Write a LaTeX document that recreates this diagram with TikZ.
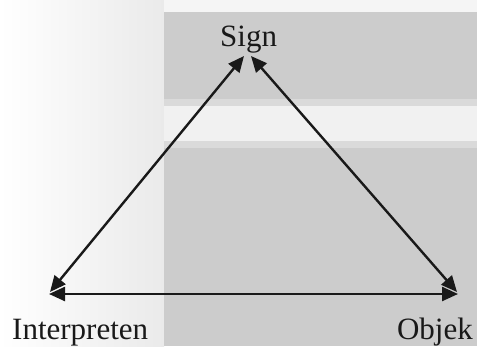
\documentclass[tikz,border=0pt]{standalone}
\usepackage{fontspec}
\setmainfont{Liberation Serif}
\usetikzlibrary{arrows.meta}
\definecolor{panel}{HTML}{CCCCCC}
\definecolor{leftbg}{HTML}{EAEAEA}
\definecolor{strip}{HTML}{F1F1F1}
\definecolor{edge}{HTML}{DADADA}
\tikzset{
  lbl/.style={inner sep=0pt, font=\fontsize{31}{36}\selectfont, text=black!90},
  link/.style={line width=2.4pt, draw=black!90, {Triangle[length=16pt,width=14pt]}-{Triangle[length=16pt,width=14pt]}}
}
\begin{document}
\begin{tikzpicture}[x=1pt,y=-1pt]
\useasboundingbox (0,0) rectangle (477,346);
% background
\shade[left color=white, right color=leftbg] (0,0) rectangle (164,346);
\fill[white!96!black] (164,0) rectangle (477,12);
\fill[edge] (164,99) rectangle (477,106);
\fill[strip] (164,106) rectangle (477,141);
\fill[edge] (164,141) rectangle (477,148);
\fill[panel] (164,12) rectangle (477,99);
\fill[panel] (164,148) rectangle (477,346);
% labels
\node[lbl, anchor=base west] (sign) at (220,46) {Sign};
\node[lbl, anchor=base west] (interp) at (12,339) {Interpreten};
\node[lbl, anchor=base east] (objek) at (473,339) {Objek};
% corners
\coordinate (sl) at (244,56);
\coordinate (sr) at (251,56);
\coordinate (il) at (50,292);
\coordinate (ib) at (49,294);
\coordinate (or) at (457,292);
\coordinate (ob) at (458,294);
% connectors
\draw[link] (il) -- (sl);
\draw[link] (sr) -- (or);
\draw[link] (ib) -- (ob);
\end{tikzpicture}
\end{document}
